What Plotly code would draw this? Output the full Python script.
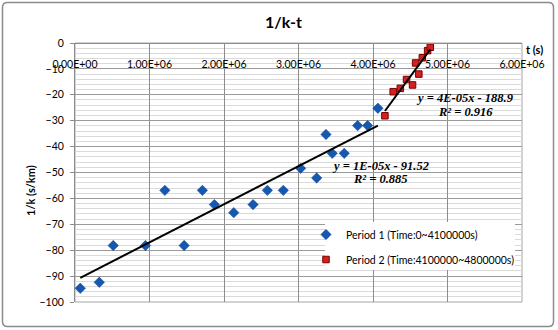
import numpy as np
import plotly.graph_objects as go

# Period 1 observations (t in seconds, 1/k in s/km)
p1_t = [0.071e6, 0.326e6, 0.513e6, 0.946e6, 1.206e6, 1.465e6, 1.710e6, 1.871e6,
        2.131e6, 2.390e6, 2.582e6, 2.796e6, 3.029e6, 3.244e6, 3.369e6, 3.453e6,
        3.614e6, 3.794e6, 3.928e6, 4.066e6]
p1_k = [-94.7, -92.4, -78.2, -78.2, -56.9, -78.2, -56.9, -62.4,
        -65.5, -62.4, -56.9, -56.9, -48.4, -52.1, -35.3, -42.6,
        -42.6, -31.9, -31.9, -25.2]

# Period 2 observations
p2_t = [4.160e6, 4.271e6, 4.367e6, 4.450e6, 4.531e6, 4.572e6, 4.615e6, 4.662e6,
        4.733e6, 4.769e6]
p2_k = [-28.1, -18.8, -17.5, -14.1, -16.2, -7.7, -12.0, -5.7, -2.95, -1.65]

series_names = ["Period 1 (Time:0~4100000s)", "Period 2 (Time:4100000~4800000s)"]
eq_texts = [("y = 1E-05x - 91.52", "R² = 0.885"), ("y = 4E-05x - 188.9", "R² = 0.916")]

x_ticks = [0, 1e6, 2e6, 3e6, 4e6, 5e6, 6e6]
x_ticktext = ["0.00E+00", "1.00E+06", "2.00E+06", "3.00E+06", "4.00E+06", "5.00E+06", "6.00E+06"]
y_ticks = list(range(0, -101, -10))

SANS = "Lato, 'Open Sans', sans-serif"
SERIF = "'Liberation Serif', 'Times New Roman', serif"

W, H = 558, 330
ML, MR, MT, MB = 75, 36, 43, 28
PW, PH = W - ML - MR, H - MT - MB


def px_x(px):
    return (px - ML) / PW


def px_y(py):
    return (H - MB - py) / PH


def trend(t, k):
    slope, icpt = np.polyfit(t, k, 1)
    xs = np.array([min(t), max(t)])
    return xs, slope * xs + icpt


def label(text, cx, cy, size, family=SANS, angle=0):
    fig.add_annotation(x=px_x(cx), y=px_y(cy), xref="paper", yref="paper",
                       text=text, showarrow=False, textangle=angle,
                       xanchor="center", yanchor="middle",
                       font=dict(family=family, size=size, color="black"))


fig = go.Figure()

fig.add_trace(go.Scatter(
    x=p1_t, y=p1_k, mode="markers", name=series_names[0],
    legendgroup="a",
    marker=dict(symbol="diamond", size=8, color="#1558B0",
                line=dict(color="#0B3F8A", width=0.5)),
))
fig.add_trace(go.Scatter(
    x=p2_t, y=p2_k, mode="markers", name=series_names[1],
    legendgroup="b",
    marker=dict(symbol="square", size=6.5, color="#D42020",
                line=dict(color="#7A0000", width=1)),
))

for t, k in ((p1_t, p1_k), (p2_t, p2_k)):
    xs, ys = trend(t, k)
    fig.add_trace(go.Scatter(x=xs, y=ys, mode="lines", showlegend=False,
                             line=dict(color="black", width=2), hoverinfo="skip"))

# trendline equations
eq_pos = [(380, 166, 179), (465, 98, 111.5)]
for (eq, r2), (cx, y1, y2) in zip(eq_texts, eq_pos):
    label("<b><i>%s</i></b>" % eq, cx, y1, 12.5, SERIF)
    label("<b><i>%s</i></b>" % r2, cx, y2, 12.5, SERIF)

# titles
label("<b>1/k-t</b>", 283, 22, 16)
label("<b>t (s)</b>", 534, 50, 11)
label("<b>1/k (s/km)</b>", 30, 191, 11, angle=-90)

# chart frame with rounded corners
x0, x1 = px_x(2.5), px_x(553.5)
y0, y1 = px_y(326.5), px_y(2.5)
rx, ry = 5 / PW, 5 / PH
path = (f"M {x0 + rx},{y1} L {x1 - rx},{y1} Q {x1},{y1} {x1},{y1 - ry} "
        f"L {x1},{y0 + ry} Q {x1},{y0} {x1 - rx},{y0} "
        f"L {x0 + rx},{y0} Q {x0},{y0} {x0},{y0 + ry} "
        f"L {x0},{y1 - ry} Q {x0},{y1} {x0 + rx},{y1} Z")
fig.add_shape(type="path", path=path, xref="paper", yref="paper",
              line=dict(color="#8C8C8C", width=1.5))
# plot area border
fig.add_shape(type="rect", x0=0, x1=1, y0=0, y1=1, xref="paper", yref="paper",
              line=dict(color="#A6A6A6", width=1), layer="below")
# white legend panel
fig.add_shape(type="rect", x0=px_x(325), x1=px_x(515), y0=px_y(270), y1=px_y(222),
              xref="paper", yref="paper", fillcolor="white",
              line=dict(width=0), layer="above")

fig.update_layout(
    width=W, height=H,
    margin=dict(l=ML, r=MR, t=MT, b=MB),
    paper_bgcolor="white", plot_bgcolor="white",
    font=dict(family=SANS, color="black"),
    showlegend=True,
    legend=dict(x=px_x(306), y=px_y(220), xanchor="left", yanchor="top",
                bgcolor="rgba(0,0,0,0)", borderwidth=0, traceorder="grouped",
                tracegroupgap=6, font=dict(family=SANS, size=10.5, color="black")),
    xaxis=dict(range=[0, 6e6], tickvals=x_ticks, ticktext=x_ticktext,
               side="bottom", anchor="free", position=1,
               showgrid=True, gridcolor="#8C8C8C", gridwidth=1,
               showline=True, linecolor="#8C8C8C", linewidth=1,
               ticks="", zeroline=False, ticklabelstandoff=11,
               tickfont=dict(family=SANS, size=10.5, color="black")),
    yaxis=dict(range=[-100, 0], tickvals=y_ticks, side="left",
               showgrid=True, gridcolor="#9A9A9A", gridwidth=1,
               minor=dict(dtick=2, showgrid=True, gridcolor="#DADADA", gridwidth=1),
               showline=True, linecolor="#8C8C8C", linewidth=1,
               ticks="outside", ticklen=4, tickcolor="#8C8C8C",
               zeroline=False, ticklabelstandoff=4,
               tickfont=dict(family=SANS, size=10.5, color="black")),
)

fig.write_html("out.html")
